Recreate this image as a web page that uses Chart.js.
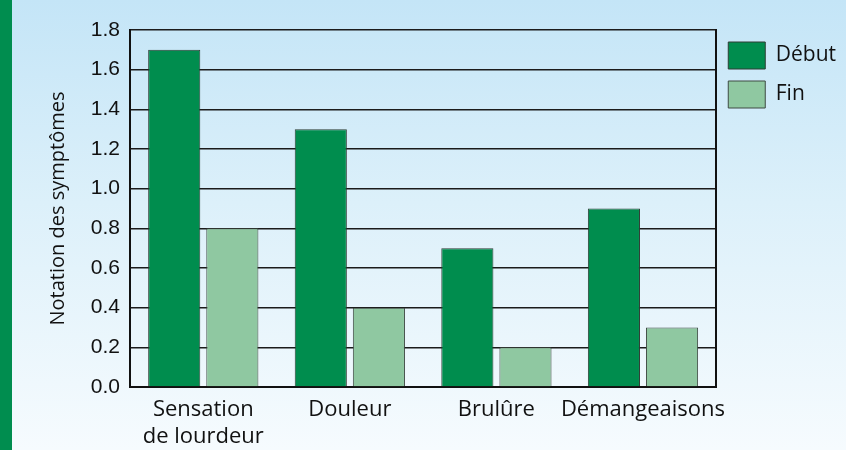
<!DOCTYPE html>
<html>
<head>
<meta charset="utf-8">
<script src="https://cdn.jsdelivr.net/npm/chart.js@4"></script>
<style>
  html, body { margin: 0; padding: 0; }
  #wrap {
    position: relative; width: 846px; height: 450px; overflow: hidden;
    background: linear-gradient(to bottom, #c4e5f7 0%, #dcf0fa 45%, #f6fbfe 100%);
  }
  #strip { position: absolute; left: 0; top: 0; width: 12px; height: 450px; background: #008d4f; }
  canvas { position: absolute; left: 0; top: 0; }
</style>
</head>
<body>
<div id="wrap">
  <canvas id="c" width="846" height="450"></canvas>
  <div id="strip"></div>
</div>
<script>
const categories = [["Sensation", "de lourdeur"], "Douleur", "Brulûre", "Démangeaisons"];
const seriesNames = ["Début", "Fin"];
const debutValues = [1.7, 1.3, 0.7, 0.9];
const finValues = [0.8, 0.4, 0.2, 0.3];
const yTicks = [0, 0.2, 0.4, 0.6, 0.8, 1.0, 1.2, 1.4, 1.6, 1.8];
const yTitle = "Notation des symptômes";

new Chart(document.getElementById('c'), {
  type: 'bar',
  data: {
    labels: categories,
    datasets: [
      { label: seriesNames[0], data: debutValues, backgroundColor: '#008d4e', borderColor: '#2e3d35', borderWidth: 1 },
      { label: seriesNames[1], data: finValues, backgroundColor: '#8fc8a1', borderColor: '#3e4a43', borderWidth: 1 }
    ]
  },
  options: {
    responsive: false,
    animation: false,
    events: [],
    layout: { padding: { top: 30, right: 0, bottom: 0, left: 0 } },
    datasets: { bar: { categoryPercentage: 0.793, barPercentage: 0.897 } },
    plugins: {
      tooltip: { enabled: false },
      legend: {
        position: 'right',
        align: 'start',
        labels: {
          boxWidth: 37, boxHeight: 27, padding: 12, color: '#111',
          font: { family: 'Open Sans', size: 21 }
        }
      }
    },
    scales: {
      x: {
        grid: { display: false, drawTicks: false },
        border: { display: true, color: '#111', width: 2 },
        ticks: {
          color: '#111', padding: 10, maxRotation: 0, autoSkip: false,
          font: { family: 'Open Sans', size: 22, lineHeight: 1.2 }
        },
        afterFit: s => { s.height = 63; }
      },
      y: {
        min: 0, max: 1.8,
        afterBuildTicks: s => { s.ticks = yTicks.map(v => ({ value: v })); },
        grid: { color: '#1b1b1b', lineWidth: 1.5, drawTicks: false },
        border: { display: true, color: '#111', width: 2 },
        ticks: {
          color: '#111', padding: 10,
          font: { family: 'Liberation Sans', size: 21 },
          callback: v => v.toFixed(1)
        },
        title: {
          display: true, text: yTitle, color: '#111',
          font: { family: 'Open Sans', size: 20 },
          padding: { top: 46, bottom: 0 }
        },
        afterFit: s => { s.width = 130; }
      },
      y2: {
        position: 'right',
        grid: { display: false, drawTicks: false },
        border: { display: true, color: '#111', width: 2 },
        ticks: { display: false },
        afterFit: s => { s.width = 0; }
      }
    }
  }
});
</script>
</body>
</html>
